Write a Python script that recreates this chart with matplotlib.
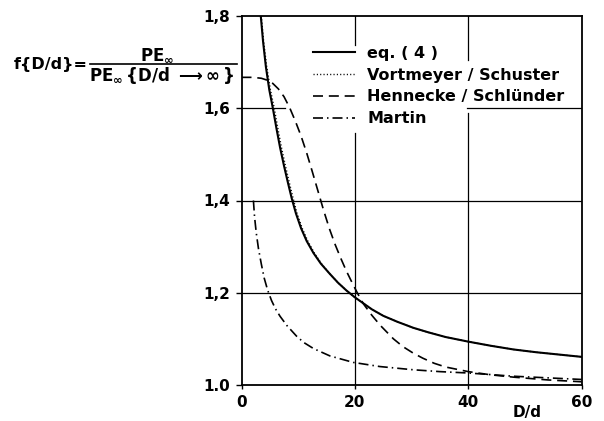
import matplotlib
matplotlib.use("Agg")
import matplotlib.pyplot as plt
from matplotlib.lines import Line2D

plt.rcParams['font.family'] = ['DejaVu Sans']
plt.rcParams['font.weight'] = 'bold'
plt.rcParams['mathtext.fontset'] = 'dejavusans'
plt.rcParams['mathtext.default'] = 'bf'

# ---- data ----
eq4_x = [3.4, 3.8, 4.3, 4.9, 5.5, 6.2, 6.8, 7.5, 8.2, 8.85, 9.6, 10.5, 11.5, 12.7, 14.0,
         15.5, 17.0, 18.5, 20.0, 21.5, 23.0, 25.0, 27.5, 30.3, 33.0, 36.0, 40.0, 44.0,
         48.0, 52.0, 56.0, 60.0]
eq4_y = [1.800, 1.745, 1.690, 1.640, 1.602, 1.554, 1.515, 1.475, 1.438, 1.405, 1.372,
         1.340, 1.312, 1.286, 1.263, 1.242, 1.222, 1.205, 1.190, 1.177, 1.164, 1.150,
         1.137, 1.124, 1.114, 1.104, 1.094, 1.085, 1.077, 1.071, 1.066, 1.061]

vs_x = [3.5, 3.9, 4.45, 5.1, 5.75, 6.45, 7.05, 7.75, 8.45, 9.1, 9.8, 10.7, 11.7, 12.85,
        14.1, 15.5, 17.0, 18.5, 20.0, 21.5, 23.0, 25.0, 27.5, 30.3, 33.0, 36.0, 40.0,
        44.0, 48.0, 52.0, 56.0, 60.0]
vs_y = [1.800, 1.745, 1.690, 1.640, 1.602, 1.554, 1.515, 1.475, 1.438, 1.405, 1.372,
        1.340, 1.312, 1.286, 1.263, 1.242, 1.222, 1.205, 1.190, 1.177, 1.164, 1.150,
        1.137, 1.124, 1.114, 1.104, 1.094, 1.085, 1.077, 1.071, 1.066, 1.061]

hs_x = [0.0, 2.0, 3.5, 4.5, 5.5, 6.5, 7.5, 8.5, 9.5, 10.5, 11.5, 12.5, 13.5, 14.5, 15.5,
        16.5, 17.5, 18.5, 19.5, 20.5, 21.5, 23.0, 24.5, 26.8, 28.5, 30.3, 32.0, 34.0,
        36.0, 40.0, 44.0, 48.0, 54.0, 60.0]
hs_y = [1.667, 1.667, 1.665, 1.661, 1.654, 1.642, 1.625, 1.601, 1.572, 1.540, 1.503,
        1.462, 1.420, 1.378, 1.339, 1.305, 1.275, 1.247, 1.222, 1.198, 1.176, 1.151,
        1.129, 1.100, 1.083, 1.069, 1.058, 1.047, 1.039, 1.029, 1.022, 1.017, 1.011, 1.007]

ma_x = [2.1, 2.3, 2.6, 3.0, 3.5, 4.0, 4.6, 5.3, 6.0, 6.8, 8.0, 9.7, 11.0, 12.7, 15.6,
        19.7, 24.4, 30.3, 35.0, 40.0, 48.0, 60.0]
ma_y = [1.400, 1.365, 1.330, 1.295, 1.262, 1.232, 1.206, 1.183, 1.165, 1.149, 1.129,
        1.106, 1.092, 1.079, 1.063, 1.049, 1.040, 1.033, 1.029, 1.026, 1.019, 1.012]

labels = ["eq. ( 4 )", "Vortmeyer / Schuster", "Hennecke / Schlünder", "Martin"]
x_ticks = [0, 20, 40, 60]
x_ticklabels = ["0", "20", "40", "60"]
y_ticks = [1.0, 1.2, 1.4, 1.6, 1.8]
y_ticklabels = ["1.0", "1,2", "1,4", "1,6", "1,8"]

W, H = 604, 421
fig = plt.figure(figsize=(W / 100, H / 100), dpi=100)
ax = fig.add_axes([241.5 / W, 1 - 385 / H, 340.2 / W, 369 / H])
ax.set_xlim(0, 60)
ax.set_ylim(1.0, 1.8)

# grid segments (interrupted by the legend)
gkw = dict(color='black', lw=0.9, zorder=1)
ax.axvline(20, 0, 0.682, **gkw)
ax.axvline(20, 0.921, 1, **gkw)
ax.axvline(40, 0, 0.737, **gkw)
ax.axvline(40, 0.881, 1, **gkw)
ax.axhline(1.2, **gkw)
ax.axhline(1.4, **gkw)
ax.axhline(1.6, 0, 0.127, **gkw)
ax.axhline(1.6, 0.663, 1, **gkw)

l1, = ax.plot(eq4_x, eq4_y, color='black', lw=1.5, zorder=3)
l2, = ax.plot(vs_x, vs_y, color='black', lw=1.0, dashes=(0.8, 1.6), zorder=3)
l3, = ax.plot(hs_x, hs_y, color='black', lw=1.2, dashes=(6, 3.5), zorder=3)
l4, = ax.plot(ma_x, ma_y, color='black', lw=1.2, dashes=(6, 2.4, 0.9, 2.4), zorder=3)

for s in ax.spines.values():
    s.set_linewidth(1.3)

ax.set_xticks(x_ticks)
ax.set_xticklabels(x_ticklabels)
ax.set_yticks(y_ticks)
ax.set_yticklabels(y_ticklabels)
ax.tick_params(axis='y', direction='out', length=4.5, width=1.0, pad=3.5, labelsize=11)
ax.tick_params(axis='x', direction='out', length=3, width=1.0, pad=4.5, labelsize=11)

ax.set_xlabel("D/d", fontsize=11, fontweight='bold')
ax.xaxis.set_label_coords(0.839, -0.055)

leg = ax.legend([l1, l2, l3, l4], labels, loc='upper left',
                bbox_to_anchor=(313 / W, 1 - 46 / H), bbox_transform=fig.transFigure,
                frameon=False, fontsize=11.5, handlelength=2.6, handletextpad=0.8,
                labelspacing=0.42, borderpad=0, borderaxespad=0)
for t in leg.get_texts():
    t.set_fontweight('bold')

# y-axis label as a fraction
fig.text(51 / W, 1 - 64 / H, r"f{D/d}=", ha='center', va='center', fontsize=11.5,
         fontweight='bold')
fig.text(157 / W, 1 - 55 / H, r"$PE_{\infty}$", ha='center', va='center', fontsize=12)
fig.text(162 / W, 1 - 76 / H, r"$PE_{\infty}\,\{D/d\ \longrightarrow\infty\,\}$",
         ha='center', va='center', fontsize=12)
fig.add_artist(Line2D([90 / W, 237 / W], [1 - 64 / H, 1 - 64 / H], color='black',
                      lw=1.2, transform=fig.transFigure))

fig.savefig("out.png", dpi=100)
